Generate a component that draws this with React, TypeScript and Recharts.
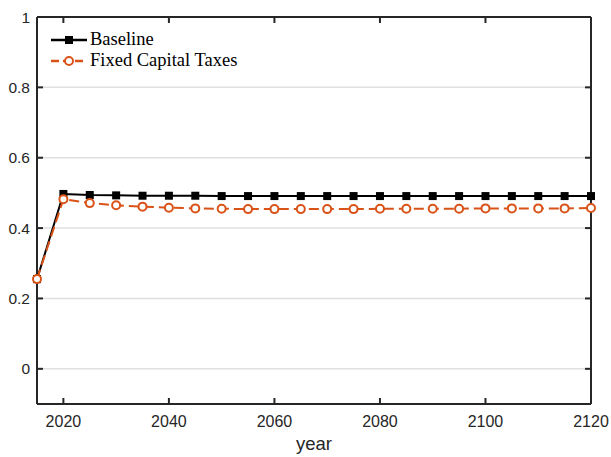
import React from "react";
import { LineChart, Line, XAxis, YAxis, CartesianGrid } from "recharts";

const years = [
  2015, 2020, 2025, 2030, 2035, 2040, 2045, 2050, 2055, 2060, 2065, 2070,
  2075, 2080, 2085, 2090, 2095, 2100, 2105, 2110, 2115, 2120,
];
const baseline = [
  0.255, 0.497, 0.494, 0.493, 0.492, 0.492, 0.492, 0.491, 0.491, 0.491, 0.491,
  0.491, 0.491, 0.491, 0.491, 0.491, 0.491, 0.491, 0.491, 0.491, 0.491, 0.491,
];
const fixedCapitalTaxes = [
  0.255, 0.482, 0.471, 0.465, 0.461, 0.458, 0.456, 0.455, 0.454, 0.454, 0.454,
  0.454, 0.454, 0.455, 0.455, 0.455, 0.455, 0.456, 0.456, 0.456, 0.456, 0.457,
];
const xTicks = [2020, 2040, 2060, 2080, 2100, 2120];
const yTicks = [0, 0.2, 0.4, 0.6, 0.8, 1];

const data = years.map((year, i) => ({
  year,
  baseline: baseline[i],
  fixed: fixedCapitalTaxes[i],
}));

const AXIS = "#262626";
const ORANGE = "#D95319";
const SANS = "Liberation Sans, Arial, sans-serif";
const TICK_LEN = 6;
const AXIS_W = 2;

// tickSize/tickMargin are 0, so x/y handed to the tick is the point on the axis line
const BottomTick = ({ x, y, payload }: any) => (
  <g>
    <line x1={x} x2={x} y1={y} y2={y - TICK_LEN} stroke={AXIS} strokeWidth={AXIS_W} />
    <text x={x} y={y + 12} dy="0.71em" textAnchor="middle" fontSize={16} fill={AXIS} fontFamily={SANS}>
      {payload.value}
    </text>
  </g>
);
const TopTick = ({ x, y }: any) => (
  <line x1={x} x2={x} y1={y} y2={y + TICK_LEN} stroke={AXIS} strokeWidth={AXIS_W} />
);
const LeftTick = ({ x, y, payload }: any) => (
  <g>
    <line x1={x} x2={x + TICK_LEN} y1={y} y2={y} stroke={AXIS} strokeWidth={AXIS_W} />
    <text x={x - 7} y={y} dy="0.355em" textAnchor="end" fontSize={15.5} fill={AXIS} fontFamily={SANS}>
      {String(payload.value)}
    </text>
  </g>
);
const RightTick = ({ x, y }: any) => (
  <line x1={x} x2={x - TICK_LEN} y1={y} y2={y} stroke={AXIS} strokeWidth={AXIS_W} />
);

const YearLabel = ({ viewBox }: any) => (
  <text
    x={viewBox.x + viewBox.width / 2}
    y={450}
    textAnchor="middle"
    fontSize={18.5}
    fill={AXIS}
    fontFamily={SANS}
  >
    year
  </text>
);

const SquareDot = (props: any) => {
  const { cx, cy, index } = props;
  if (cx == null || cy == null) return <g key={index} />;
  return <rect key={index} x={cx - 4} y={cy - 4} width={8} height={8} fill="#000" />;
};

const CircleDot = (props: any) => {
  const { cx, cy, index } = props;
  if (cx == null || cy == null) return <g key={index} />;
  return <circle key={index} cx={cx} cy={cy} r={4} fill="#fff" stroke={ORANGE} strokeWidth={2} />;
};

const legendRows = [
  { name: "Baseline", color: "#000", dash: undefined, marker: "square" },
  { name: "Fixed Capital Taxes", color: ORANGE, dash: "8 4", marker: "circle" },
];

const LegendBox = () => (
  <div
    style={{
      position: "absolute",
      left: 49,
      top: 29,
      fontFamily: "Liberation Serif, Times New Roman, serif",
      fontSize: 18.5,
      color: "#000",
      lineHeight: "21px",
    }}
  >
    {legendRows.map((r) => (
      <div key={r.name} style={{ display: "flex", alignItems: "center", height: 21 }}>
        <svg width={40} height={14} style={{ marginRight: 1 }}>
          <line x1={2} x2={38} y1={7} y2={7} stroke={r.color} strokeWidth={2.5} strokeDasharray={r.dash} />
          {r.marker === "square" ? (
            <rect x={16} y={3} width={8} height={8} fill="#000" />
          ) : (
            <circle cx={20} cy={7} r={4} fill="#fff" stroke={r.color} strokeWidth={2} />
          )}
        </svg>
        <span>{r.name}</span>
      </div>
    ))}
  </div>
);

export default function App() {
  return (
    <div style={{ position: "absolute", left: 0, top: 0, width: 611, height: 457, background: "#fff" }}>
      <LineChart
        width={611}
        height={457}
        data={data}
        margin={{ top: 16, right: 19, bottom: 0, left: 0 }}
      >
        <CartesianGrid vertical={false} stroke="#e0e0e0" strokeWidth={1.5} yAxisId="left" />
        <XAxis
          dataKey="year"
          type="number"
          domain={[2015, 2120]}
          ticks={xTicks}
          height={53}
          axisLine={{ stroke: AXIS, strokeWidth: AXIS_W }}
          tickLine={false}
          tickSize={0}
          tickMargin={0}
          tick={<BottomTick />}
          label={<YearLabel />}
        />
        <XAxis
          xAxisId="top"
          orientation="top"
          dataKey="year"
          type="number"
          domain={[2015, 2120]}
          ticks={xTicks}
          height={1}
          axisLine={{ stroke: AXIS, strokeWidth: AXIS_W }}
          tickLine={false}
          tickSize={0}
          tickMargin={0}
          tick={<TopTick />}
        />
        <YAxis
          yAxisId="left"
          domain={[-0.1, 1]}
          ticks={yTicks}
          width={37}
          axisLine={{ stroke: AXIS, strokeWidth: AXIS_W }}
          tickLine={false}
          tickSize={0}
          tickMargin={0}
          tick={<LeftTick />}
        />
        <YAxis
          yAxisId="right"
          orientation="right"
          domain={[-0.1, 1]}
          ticks={yTicks}
          width={1}
          axisLine={{ stroke: AXIS, strokeWidth: AXIS_W }}
          tickLine={false}
          tickSize={0}
          tickMargin={0}
          tick={<RightTick />}
        />
        {/* invisible series so the mirrored top/right axes get a scale */}
        <Line
          xAxisId="top"
          yAxisId="right"
          dataKey="baseline"
          stroke="none"
          dot={false}
          activeDot={false}
          isAnimationActive={false}
        />
        <Line
          yAxisId="left"
          dataKey="baseline"
          name="Baseline"
          stroke="#000"
          strokeWidth={2}
          dot={<SquareDot />}
          isAnimationActive={false}
        />
        <Line
          yAxisId="left"
          dataKey="fixed"
          name="Fixed Capital Taxes"
          stroke={ORANGE}
          strokeWidth={2}
          strokeDasharray="10 5"
          dot={<CircleDot />}
          isAnimationActive={false}
        />
      </LineChart>
      <LegendBox />
    </div>
  );
}
